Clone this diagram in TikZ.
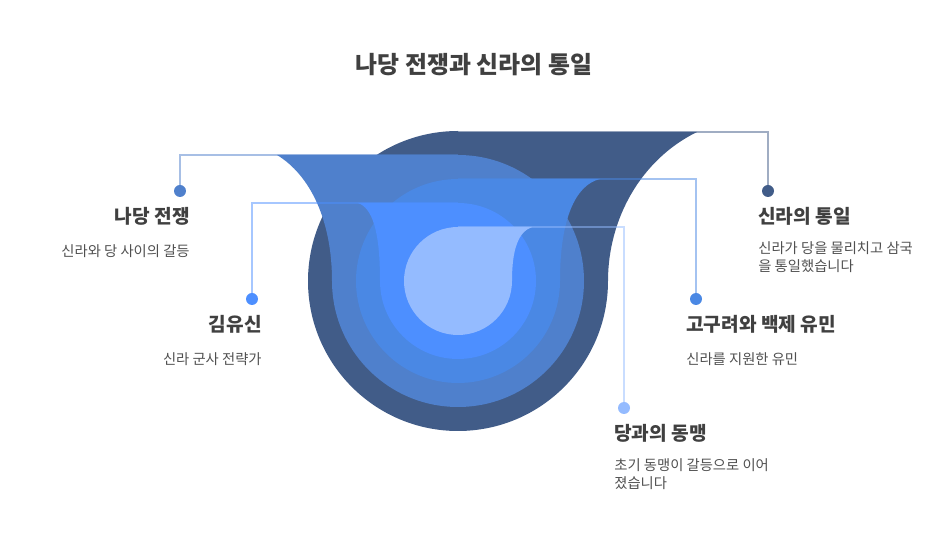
\documentclass[tikz,border=0pt]{standalone}
\usepackage{fontspec}
\setmainfont{Noto Sans CJK KR}
\usepackage{tikz}
\usetikzlibrary{positioning, calc}
\usepackage{xcolor}

\definecolor{layerA}{HTML}{415C88}
\definecolor{layerB}{HTML}{4F80CC}
\definecolor{layerC}{HTML}{4A88E4}
\definecolor{layerD}{HTML}{4D8FFF}
\definecolor{layerE}{HTML}{94BBFF}
\definecolor{textdark}{HTML}{404040}
\definecolor{textgray}{HTML}{505050}

\begin{document}
\begin{tikzpicture}[
                    % one unit is one pixel of the reference, y runs downward
                    x=0.02cm, y=-0.02cm,
                    every node/.style={inner sep=0pt},
                    link/.style={line width=0.85pt, draw opacity=0.5},
                    dot/.style={circle, minimum size=0.24cm},
                    headtxt/.style={font=\bfseries\fontsize{10.9}{13}\selectfont, text=textdark},
                    desctxt/.style={font=\fontsize{8.15}{10.2}\selectfont, text=textgray, align=left}
                  ]
  % --- Define dimensions of the drop ---
  \def\Cx{458}   % centre x of all circles
  \def\Cy{281}   % centre y of all circles

  \useasboundingbox (0,0) rectangle (948,540);

  % --- Title ---
  \node[font=\bfseries\fontsize{13.6}{16}\selectfont, text=textdark] (title) at (474,65) {나당 전쟁과 신라의 통일};

  % --- The five layers, outermost first ---
  % Layer 1: flares to the right
  \fill[layerA] (\Cx,132) -- (697,132) .. controls (640,160) and (608,220) .. (608,\Cy)
      arc[start angle=0, end angle=270, radius=150] -- cycle;
  % Layer 2: flares to the left
  \fill[layerB] (277,155) -- (\Cx,155) arc[start angle=270, end angle=540, radius=126]
      .. controls (332,220) and (310,175) .. (277,155) -- cycle;
  % Layer 3: flares to the right
  \fill[layerC] (\Cx,179) -- (600,179) .. controls (575,185) and (560,220) .. (560,\Cy)
      arc[start angle=0, end angle=270, radius=102] -- cycle;
  % Layer 4: flares to the left
  \fill[layerD] (358,203) -- (\Cx,203) arc[start angle=270, end angle=540, radius=78]
      .. controls (380,230) and (372,208) .. (358,203) -- cycle;
  % Layer 5 (inner): flares to the right
  \fill[layerE] (\Cx,227) -- (532,227) .. controls (518,232) and (512,250) .. (512,\Cy)
      arc[start angle=0, end angle=270, radius=54] -- cycle;

  % --- Top points of the layers ---
  \coordinate (topUnify)   at (\Cx,132);
  \coordinate (topWar)     at (\Cx,155);
  \coordinate (topRefugee) at (\Cx,179);
  \coordinate (topKim)     at (\Cx,203);
  \coordinate (topTang)    at (\Cx,227);

  % --- Dots ---
  \node[dot, fill=layerB] (dotWar)     at (180,191) {};
  \node[dot, fill=layerD] (dotKim)     at (252,299) {};
  \node[dot, fill=layerA] (dotUnify)   at (768,191) {};
  \node[dot, fill=layerC] (dotRefugee) at (696,299) {};
  \node[dot, fill=layerE] (dotTang)    at (624,408) {};

  % --- Connectors ---
  \draw[link, layerB] (dotWar) |- (topWar);
  \draw[link, layerD] (dotKim) |- (topKim);
  \draw[link, layerA] (dotUnify) |- (topUnify);
  \draw[link, layerC] (dotRefugee) |- (topRefugee);
  \draw[link, layerE] (dotTang) |- (topTang);

  % --- Labels, left side ---
  \node[headtxt, anchor=east] (headWar) at (190,216) {나당 전쟁};
  \node[desctxt, anchor=east] (descWar) at (190,251) {신라와 당 사이의 갈등};
  \node[headtxt, anchor=east] (headKim) at (262,324) {김유신};
  \node[desctxt, anchor=east] (descKim) at (262,359) {신라 군사 전략가};

  % --- Labels, right side ---
  \node[headtxt, anchor=west] (headUnify) at (758,216) {신라의 통일};
  \node[desctxt, anchor=north west] (descUnify) at (758,241) {신라가 당을 물리치고 삼국\\을 통일했습니다};
  \node[headtxt, anchor=west] (headRefugee) at (686,324) {고구려와 백제 유민};
  \node[desctxt, anchor=west] (descRefugee) at (686,359) {신라를 지원한 유민};
  \node[headtxt, anchor=west] (headTang) at (614,433) {당과의 동맹};
  \node[desctxt, anchor=north west] (descTang) at (614,458) {초기 동맹이 갈등으로 이어\\졌습니다};

\end{tikzpicture}
\end{document}
